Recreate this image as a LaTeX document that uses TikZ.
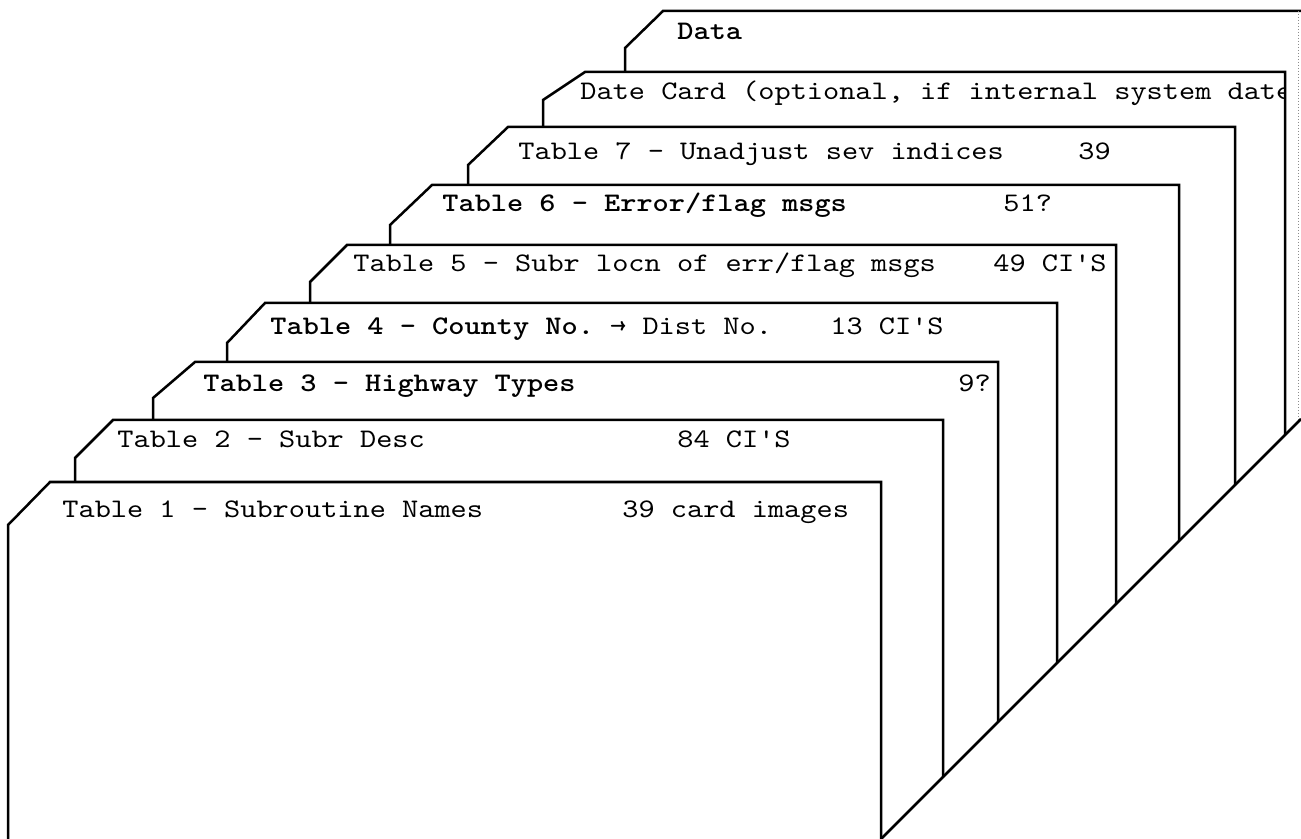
\documentclass[tikz,border=0pt]{standalone}
\usepackage{fontspec}
\setmonofont{lmmono10-regular.otf}[FakeStretch=1.15, BoldFont=lmmonolt10-bold.otf]
\usepackage{tikz}

\begin{document}
\begin{tikzpicture}[x=0.5pt, y=-0.5pt,
        cardedge/.style={draw=black, line width=1.25pt, line join=miter},
        cardlabel/.style={anchor=base west, inner sep=0pt,
        font=\ttfamily\fontsize{13.4}{16}\selectfont},
        inklabel/.style={cardlabel, font=\ttfamily\bfseries\fontsize{13.4}{16}\selectfont},
        faintedge/.style={draw=black!45, densely dotted, line width=0.5pt},
      ]
      \useasboundingbox (0,0) rectangle (1301,839);

      % Data card (back) - cut off at the right edge of the page
      \draw[cardedge] (625,72) -- (625,48) -- (663,11) -- (1301,11);
      \draw[faintedge] (1298,11) -- (1298,422);
      \node[inklabel] (data) at (677,40) {Data};

      % Date card - its text runs under the right edge
      \draw[cardedge] (543,127) -- (543,100) -- (585,72) -- (1285,72) -- (1285,435);
      \begin{scope}
        \clip (560,72) rectangle (1285,127);
        \node[cardlabel] (date) at (580,100) {Date Card (optional, if internal system date};
      \end{scope}

      % Table 7
      \draw[cardedge] (468,185) -- (468,165) -- (508,127) -- (1235,127) -- (1235,485);
      \node[cardlabel] (t7) at (518,160) {Table 7 - Unadjust sev indices};
      \node[cardlabel] (n7) at (1078,160) {39};

      % Table 6
      \draw[cardedge] (390,245) -- (390,225) -- (432,185) -- (1179,185) -- (1179,541);
      \node[inklabel] (t6) at (442,212) {Table 6 - Error/flag msgs};
      \node[cardlabel] (n6) at (1003,212) {51?};

      % Table 5
      \draw[cardedge] (310,303) -- (310,282) -- (347,245) -- (1116,245) -- (1116,604);
      \node[cardlabel] (t5) at (353,272) {Table 5 - Subr locn of err/flag msgs};
      \node[cardlabel] (n5) at (993,272) {49 CI'S};

      % Table 4
      \draw[cardedge] (227,362) -- (227,343) -- (265,303) -- (1057,303) -- (1057,663);
      \node[cardlabel] (t4) at (270,335) {\textbf{Table 4 - County No.} → Dist No.};
      \node[cardlabel] (n4) at (830,335) {13 CI'S};

      % Table 3
      \draw[cardedge] (153,420) -- (153,398) -- (195,362) -- (998,362) -- (998,722);
      \node[inklabel] (t3) at (203,392) {Table 3 - Highway Types};
      \node[cardlabel] (n3) at (958,392) {9?};

      % Table 2
      \draw[cardedge] (75,482) -- (75,458) -- (113,420) -- (943,420) -- (943,777);
      \node[cardlabel] (t2) at (117,448) {Table 2 - Subr Desc};
      \node[cardlabel] (n2) at (677,448) {84 CI'S};

      % Table 1 (front) - runs off the bottom of the page
      \draw[cardedge] (8,839) -- (8,525) -- (50,482) -- (881,482) -- (881,839);
      \node[cardlabel] (t1) at (62,517) {Table 1 - Subroutine Names};
      \node[cardlabel] (n1) at (622,517) {39 card images};

      % Bottom edge of the deck
      \draw[cardedge] (881,839) -- (1301,419);
    \end{tikzpicture}
\end{document}
